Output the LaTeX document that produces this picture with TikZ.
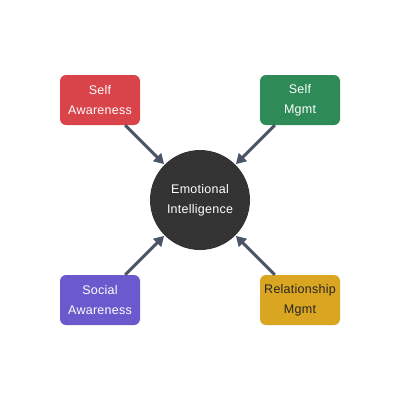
\documentclass[tikz,border=0pt]{standalone}
\usepackage{fontspec}
\setmainfont{Liberation Sans}[LetterSpace=2]
\usetikzlibrary{arrows.meta}
\definecolor{cred}{HTML}{D9434A}
\definecolor{cgreen}{HTML}{2E8B57}
\definecolor{cpurple}{HTML}{6A5ACD}
\definecolor{cgold}{HTML}{DAA520}
\definecolor{ccore}{HTML}{333333}
\definecolor{carrow}{HTML}{4A5568}
\tikzset{
  px/.style={x=1pt,y=-1pt},
  box/.style={rounded corners=6pt, minimum width=80pt, minimum height=50pt, inner sep=0pt, align=center, font=\fontsize{12.5}{20}\selectfont, text=white},
  core/.style={circle, fill=ccore, minimum size=100pt, inner sep=0pt, align=center, font=\fontsize{12.5}{20}\selectfont, text=white},
  conn/.style={draw=carrow, line width=3pt, -{Triangle[length=10pt,width=11pt]}, shorten >=0.5pt}
}
\begin{document}
\begin{tikzpicture}[px]
\useasboundingbox (0,0) rectangle (400,400);
\node[core] (c) at (200,200) {Emotional\\Intelligence};
\node[box, fill=cred] (sa) at (100,100) {Self\\Awareness};
\node[box, fill=cgreen] (sm) at (300,100) {Self\\Mgmt};
\node[box, fill=cpurple] (so) at (100,300) {Social\\Awareness};
\node[box, fill=cgold, text=black!85] (rm) at (300,300) {Relationship\\Mgmt};
\draw[conn] (sa) -- (c);
\draw[conn] (sm) -- (c);
\draw[conn] (so) -- (c);
\draw[conn] (rm) -- (c);
\end{tikzpicture}
\end{document}
